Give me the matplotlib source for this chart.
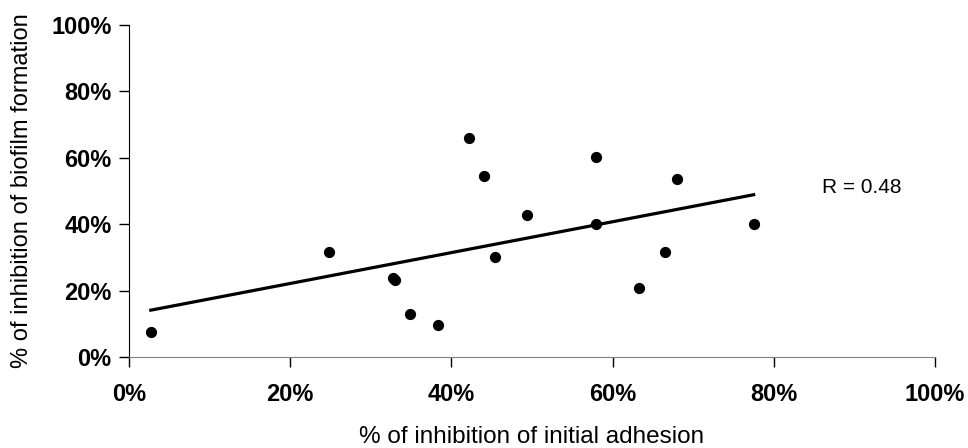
import numpy as np
import matplotlib.pyplot as plt
from matplotlib.ticker import PercentFormatter

plt.rcParams['font.family'] = ['Liberation Sans', 'DejaVu Sans']

# % inhibition of initial adhesion (x) vs % inhibition of biofilm formation (y)
adhesion = [2.7, 24.8, 32.7, 33.0, 34.8, 38.3, 42.2, 44.0,
            45.4, 49.4, 57.9, 57.9, 63.3, 66.5, 68.0, 77.5]
biofilm = [7.6, 31.7, 23.9, 23.2, 13.0, 9.5, 66.1, 54.6,
           30.0, 42.7, 60.1, 40.2, 20.9, 31.7, 53.5, 40.2]
r_label = 'R = 0.48'

x = np.array(adhesion)
y = np.array(biofilm)

fig = plt.figure(figsize=(9.68, 4.48), dpi=100)
ax = fig.add_axes([0.1333, 0.2031, 0.8326, 0.7411])

ax.scatter(x, y, s=50, color='black', zorder=3)

# linear trend line over the data range
slope, intercept = np.polyfit(x, y, 1)
xt = np.array([x.min(), x.max()])
ax.plot(xt, slope * xt + intercept, color='black', linewidth=2.3)

ax.text(86, 51, r_label, fontsize=15, va='center', ha='left')

ax.set_xlim(0, 100)
ax.set_ylim(0, 100)
ax.set_xticks(np.arange(0, 101, 20))
ax.set_yticks(np.arange(0, 101, 20))
ax.xaxis.set_major_formatter(PercentFormatter(decimals=0))
ax.yaxis.set_major_formatter(PercentFormatter(decimals=0))

for lab in ax.get_xticklabels() + ax.get_yticklabels():
    lab.set_fontweight('bold')
    lab.set_fontsize(17)

ax.tick_params(axis='both', direction='out', length=7, width=1, color='black')
ax.tick_params(axis='x', pad=12)
ax.tick_params(axis='y', pad=5.5)

ax.spines['top'].set_visible(False)
ax.spines['right'].set_visible(False)
ax.spines['bottom'].set_color('#808080')
ax.spines['left'].set_color('black')

ax.set_xlabel('% of inhibition of initial adhesion', fontsize=17.5, labelpad=14)
ax.set_ylabel('% of inhibition of biofilm formation', fontsize=17, labelpad=13)

plt.savefig('out.png', dpi=100)
